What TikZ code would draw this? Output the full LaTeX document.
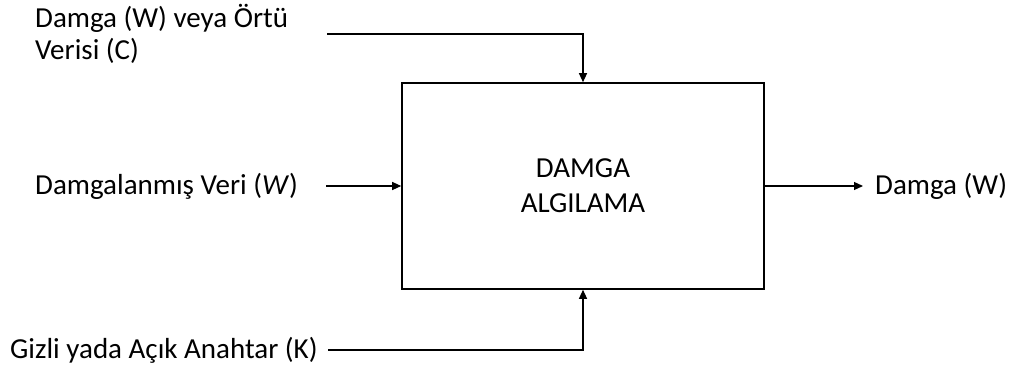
\documentclass[tikz,border=0pt]{standalone}
\usepackage{fontspec}
\setmainfont{Carlito}
\usetikzlibrary{arrows.meta}
\begin{document}
\begin{tikzpicture}[x=1pt,y=-1pt,
  lbl/.style={anchor=west,inner sep=0pt,font=\fontsize{29}{32}\selectfont,align=left},
  conn/.style={line width=1.2pt,-{Triangle[length=9pt,width=8pt]}},
  blk/.style={draw,line width=1.6pt,minimum width=362pt,minimum height=206pt,inner sep=0pt,align=center,font=\fontsize{29}{35}\selectfont}]
\useasboundingbox (0,0) rectangle (1016,369);
\node[blk] (box) at (583,186) {DAMGA\\ALGILAMA};
\node[lbl] (top) at (35,34) {Damga (W) veya Örtü\\Verisi (C)};
\node[lbl] (mid) at (35,186) {Damgalanmış Veri (\textit{W})};
\node[lbl] (bot) at (10,350) {Gizli yada Açık Anahtar (K)};
\node[lbl] (out) at (875,186) {Damga (W)};
\coordinate (c1) at (327,34);
\coordinate (c2) at (326,186);
\coordinate (c3) at (328,350);
\draw[conn] (c1) -| (box.north);
\draw[conn] (c2) -- (box.west);
\draw[conn] (c3) -| (box.south);
\draw[conn] (box.east) -- ([xshift=-12pt]out.west);
\end{tikzpicture}
\end{document}
